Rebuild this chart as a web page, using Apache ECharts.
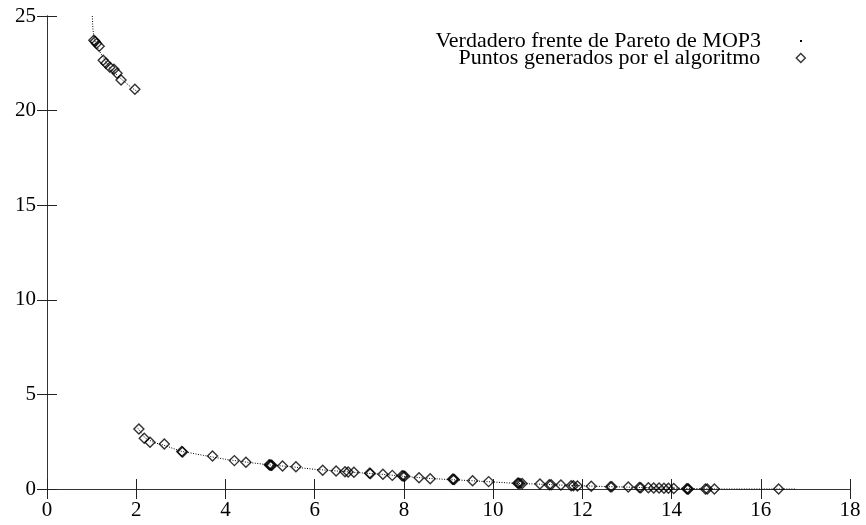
<!DOCTYPE html>
<html><head><meta charset="utf-8">
<script src="https://cdn.jsdelivr.net/npm/echarts@6/dist/echarts.min.js"></script>
<style>html,body{margin:0;padding:0;background:#fff}#c{width:866px;height:525px}</style>
</head><body><div id="c"></div>
<script>
const frontName = 'Verdadero frente de Pareto de MOP3';
const pointsName = 'Puntos generados por el algoritmo';
const xTicks = [0,2,4,6,8,10,12,14,16,18];
const yTicks = [0,5,10,15,20,25];

// True Pareto front, upper segment (x, y)
const frontUpperX = [1.016,1.02,1.025,1.03,1.04,1.06,1.09,1.13,1.2,1.3,1.4,1.5,1.6,1.7,1.8,1.9,2.0,2.06];
const frontUpperY = [25.0,24.8,24.5,24.3,24.1,23.8,23.55,23.35,23.05,22.65,22.3,22.05,21.8,21.6,21.4,21.2,21.05,20.95];
// True Pareto front, lower segment
const frontLowerX = [2.04,2.2,2.4,2.6,3.0,3.5,4.0,4.5,5.0,5.5,6.0,6.5,7.0,7.5,8.0,8.5,9.0,9.5,10.0,10.5,11.0,11.5,12.0,12.5,13.0,13.5,14.0,14.5,15.0,16.0,16.8];
const frontLowerY = [3.2,2.7,2.45,2.33,2.0,1.78,1.57,1.41,1.27,1.17,1.04,0.95,0.86,0.78,0.67,0.57,0.5,0.44,0.37,0.3,0.26,0.21,0.17,0.13,0.1,0.07,0.05,0.02,0.0,0.0,0.0];

// Points generated by the algorithm
const algX = [1.05,1.08,1.11,1.17,1.26,1.32,1.41,1.50,1.57,1.66,1.97,
  2.06,2.18,2.31,2.63,3.02,3.04,3.71,4.20,4.46,4.98,5.0,5.02,5.04,5.28,5.58,6.18,6.48,6.68,6.75,6.88,
  7.23,7.25,7.53,7.74,7.96,7.99,8.02,8.34,8.59,9.09,9.11,9.13,9.54,9.9,10.55,10.57,10.6,10.65,
  11.05,11.26,11.3,11.52,11.75,11.8,11.89,12.2,12.63,12.66,13.03,13.28,13.31,13.48,13.6,13.72,13.83,13.93,14.05,
  14.34,14.36,14.38,14.76,14.8,14.96,16.4];
const algY = [23.72,23.65,23.54,23.40,22.66,22.50,22.29,22.19,21.98,21.62,21.13,
  3.17,2.68,2.47,2.38,1.98,1.96,1.74,1.50,1.41,1.28,1.27,1.26,1.26,1.21,1.18,0.99,0.95,0.91,0.9,0.88,
  0.83,0.82,0.78,0.72,0.7,0.69,0.68,0.60,0.54,0.52,0.51,0.5,0.44,0.39,0.31,0.30,0.29,0.29,
  0.26,0.23,0.22,0.21,0.17,0.17,0.16,0.14,0.12,0.12,0.10,0.08,0.07,0.06,0.05,0.05,0.04,0.04,0.03,
  0.01,0.0,0.0,0.0,0.0,0.0,0.0];

const zip = (a,b) => a.map((v,i)=>[v,b[i]]);
const font = 'Liberation Serif';
const labelStyle = {fontFamily:font, fontSize:21, color:'#000'};
const axisCommon = {
  type:'value', splitLine:{show:false},
  axisLine:{show:true, lineStyle:{color:'#333', width:1}},
  axisTick:{show:true, inside:true, length:10, lineStyle:{color:'#222'}}
};
const chart = echarts.init(document.getElementById('c'), null, {renderer:'canvas'});
chart.setOption({
  animation:false,
  backgroundColor:'#fff',
  grid:{left:47, right:16, top:16, bottom:36, containLabel:false},
  xAxis:[
    Object.assign({}, axisCommon, {min:0, max:18, interval:2, position:'bottom', axisLabel:Object.assign({}, labelStyle, {margin:11})}),
    Object.assign({}, axisCommon, {min:0, max:18, interval:2, position:'top', axisLabel:{show:false}})
  ],
  yAxis:[
    Object.assign({}, axisCommon, {min:0, max:25, interval:5, position:'left', axisLabel:Object.assign({}, labelStyle, {margin:11})}),
    Object.assign({}, axisCommon, {min:0, max:25, interval:5, position:'right', axisLabel:{show:false}})
  ],
  legend:[
    {data:[{name:frontName, icon:'rect'}], right:64, top:30, orient:'vertical', align:'right', padding:0,
     itemWidth:2, itemHeight:2, textStyle:{fontFamily:font, fontSize:22, lineHeight:18, color:'#000', padding:[0,34,0,0]}},
    {data:[{name:pointsName, icon:'diamond'}], right:60, top:47, orient:'vertical', align:'right', padding:0,
     itemWidth:9, itemHeight:9, itemStyle:{color:'rgba(255,255,255,0)', borderColor:'#000', borderWidth:1.4},
     textStyle:{fontFamily:font, fontSize:22, lineHeight:18, color:'#000', padding:[0,31,0,0]}}
  ],
  series:[
    {name:frontName, type:'line', data:zip(frontUpperX, frontUpperY), showSymbol:false, symbol:'none',
     lineStyle:{color:'#000', width:1, type:[1,1.5]}, itemStyle:{color:'#000'}},
    {name:frontName, type:'line', data:zip(frontLowerX, frontLowerY), showSymbol:false, symbol:'none',
     lineStyle:{color:'#000', width:1, type:[1,1.5]}, itemStyle:{color:'#000'}},
    {name:pointsName, type:'scatter', data:zip(algX, algY), symbol:'diamond', symbolSize:10,
     itemStyle:{color:'rgba(255,255,255,0)', borderColor:'#000', borderWidth:1.4}}
  ]
});
</script></body></html>
